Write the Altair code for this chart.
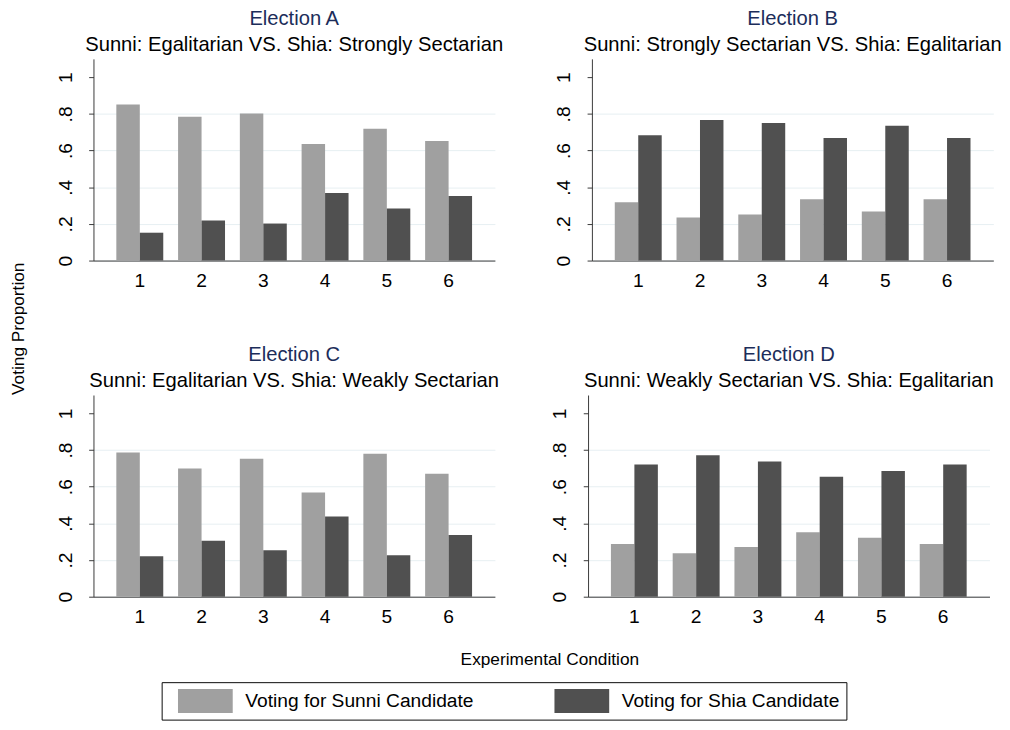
import altair as alt
import pandas as pd

conditions = ["1", "2", "3", "4", "5", "6"]
series = ["Voting for Sunni Candidate", "Voting for Shia Candidate"]
colors = ["#a0a0a0", "#505050"]

elections = ["Election A", "Election B", "Election C", "Election D"]
subtitles = [
    "Sunni: Egalitarian VS. Shia: Strongly Sectarian",
    "Sunni: Strongly Sectarian VS. Shia: Egalitarian",
    "Sunni: Egalitarian VS. Shia: Weakly Sectarian",
    "Sunni: Weakly Sectarian VS. Shia: Egalitarian",
]
y_title = "Voting Proportion"
x_title = "Experimental Condition"

sunni_A = [0.851, 0.784, 0.802, 0.636, 0.719, 0.652]
shia_A = [0.152, 0.219, 0.202, 0.368, 0.284, 0.352]
sunni_B = [0.318, 0.235, 0.251, 0.334, 0.267, 0.334]
shia_B = [0.684, 0.767, 0.751, 0.668, 0.735, 0.668]
sunni_C = [0.786, 0.699, 0.753, 0.569, 0.780, 0.670]
shia_C = [0.220, 0.305, 0.253, 0.437, 0.226, 0.336]
sunni_D = [0.287, 0.237, 0.271, 0.352, 0.321, 0.287]
shia_D = [0.721, 0.771, 0.737, 0.654, 0.686, 0.721]

y_ticks = [0, 0.2, 0.4, 0.6, 0.8, 1]

FONT = "Liberation Sans"
W, H = 418, 210


def panel(title, subtitle, sunni, shia):
    rows = []
    for c, s_val, h_val in zip(conditions, sunni, shia):
        rows.append({"cond": c, "series": series[0], "value": s_val})
        rows.append({"cond": c, "series": series[1], "value": h_val})
    df = pd.DataFrame(rows)
    return alt.Chart(df).mark_bar().encode(
        x=alt.X(
            "cond:N",
            sort=conditions,
            scale=alt.Scale(paddingInner=0.24, paddingOuter=0.37),
            axis=alt.Axis(title=None, labelAngle=0, ticks=False, labelPadding=11,
                          labelFontSize=20, grid=False),
        ),
        xOffset=alt.XOffset("series:N", sort=series,
                            scale=alt.Scale(paddingInner=0, paddingOuter=0)),
        y=alt.Y(
            "value:Q",
            scale=alt.Scale(domain=[0, 1.1], nice=False),
            axis=alt.Axis(
                title=None,
                values=y_ticks,
                labelExpr="datum.value == 0 ? '0' : (datum.value == 1 ? '1' : replace(format(datum.value, '.1f'), '0.', '.'))",
                labelAngle=270,
                labelAlign="center",
                labelBaseline="alphabetic",
                labelPadding=18,
                labelFontSize=20,
                tickSize=5,
                grid=True,
                gridOpacity={"condition": {"test": "datum.value === 1", "value": 0}, "value": 1},
            ),
        ),
        color=alt.Color(
            "series:N",
            sort=series,
            scale=alt.Scale(domain=series, range=colors),
            legend=alt.Legend(
                title=None,
                orient="none",
                legendX=160,
                legendY=649,
                direction="horizontal",
                gridAlign="all",
                symbolType="M-2.28,-1H2.28V1H-2.28Z",
                symbolSize=625,
                symbolOffset=26,
                symbolStrokeWidth=0,
                symbolOpacity=1,
                labelOffset=29,
                labelFontSize=20,
                labelFont=FONT,
                labelLimit=500,
                columnPadding=74,
                padding=7,
                strokeColor="black",
                fillColor="white",
            ),
        ),
    ).properties(
        width=W,
        height=H,
        title=alt.TitleParams(
            text=title,
            subtitle=subtitle,
            font=FONT,
            fontSize=21,
            fontWeight="normal",
            color="#1c2d5a",
            subtitleFont=FONT,
            subtitleFontSize=21,
            subtitleColor="black",
            subtitlePadding=6,
            anchor="middle",
            frame="group",
            offset=4,
        ),
    )


pA = panel(elections[0], subtitles[0], sunni_A, shia_A)
pB = panel(elections[1], subtitles[1], sunni_B, shia_B)
pC = panel(elections[2], subtitles[2], sunni_C, shia_C)
pD = panel(elections[3], subtitles[3], sunni_D, shia_D)

row1 = alt.hconcat(pA, pB, spacing=53)
row2 = alt.hconcat(pC, pD, spacing=53).properties(
    title=alt.TitleParams(x_title, orient="bottom", font=FONT, fontSize=18,
                          fontWeight="normal", color="black", anchor="middle",
                          offset=26, dx=26)
)
grid = alt.vconcat(row1, row2, spacing=57)

ylab = alt.Chart(alt.Data(values=[{"t": y_title}])).mark_text(
    angle=270, font=FONT, fontSize=18, color="black", align="center", baseline="middle"
).encode(
    text="t:N",
    x=alt.value(12),
    y=alt.value(281),
).properties(width=20, height=560)

chart = alt.hconcat(ylab, grid, spacing=29).properties(
    background="white",
    padding={"left": 0, "top": -14, "right": 0, "bottom": 0},
).configure_view(strokeWidth=0, stroke="transparent").configure_axis(
    labelFont=FONT,
    labelColor="black",
    domainColor="#333333",
    tickColor="#333333",
    gridColor="#e6eef1",
)

chart.save("out.html", embed_options={"renderer": "svg", "actions": False})
